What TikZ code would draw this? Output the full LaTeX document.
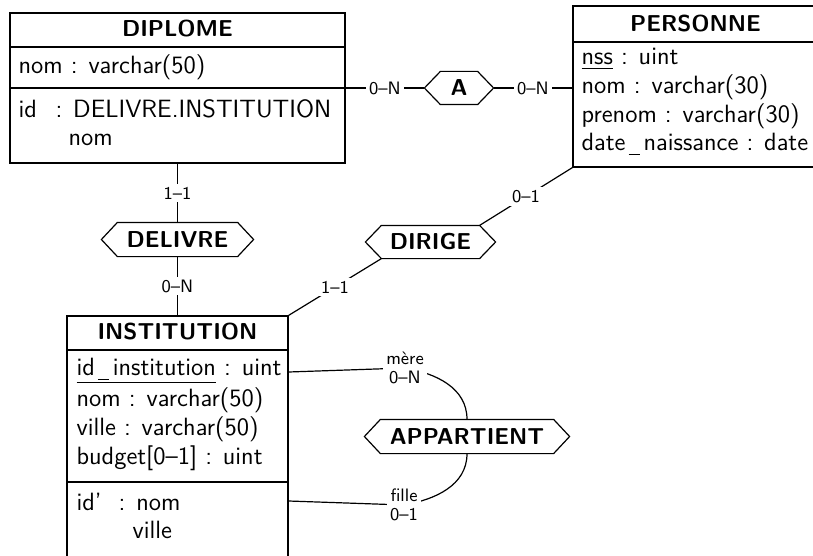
\documentclass[tikz,border=0pt]{standalone}
\usepackage{fontspec}
\usetikzlibrary{calc}
\newcommand\hexa[1]{\draw (#1.west) -- ([xshift=8pt]#1.north west) -- ([xshift=-8pt]#1.north east) -- (#1.east) -- ([xshift=-8pt]#1.south east) -- ([xshift=8pt]#1.south west) -- cycle;}
\newcommand\usc{\kern1.5pt\rule[-2.3pt]{5.5pt}{0.5pt}\kern2pt}
\begin{document}
\begin{tikzpicture}[x=0.5pt,y=-0.5pt, line width=0.6pt,
 entity/.style={draw, rectangle, inner sep=0pt},
 enttitle/.style={anchor=base, inner sep=0pt, font=\sffamily\fontsize{11.5}{14}\selectfont\bfseries},
 attrtext/.style={anchor=base west, inner sep=0pt, font=\sffamily\fontsize{12.5}{15}\selectfont},
 relbox/.style={rectangle, inner sep=0pt, font=\sffamily\fontsize{11.5}{14}\selectfont\bfseries},
 lbl/.style={fill=white, inner sep=1.5pt, font=\sffamily\fontsize{9}{9.5}\selectfont, align=center}]
\useasboundingbox (0,0) rectangle (813,556);

% DIPLOME
\node[entity, minimum width=167.5pt, minimum height=75pt] (diplome) at (177.5,88) {};
\draw (diplome.west |- 0,47) -- (diplome.east |- 0,47);
\draw (diplome.west |- 0,88) -- (diplome.east |- 0,88);
\node[enttitle] (diplomeT) at (177.5,37) {DIPLOME};
\node[attrtext] (d1) at (18,74) {nom : varchar(50)};
\node[attrtext] (d2) at (18,118) {id};
\node[attrtext] (d3) at (55,118) {: DELIVRE.INSTITUTION};
\node[attrtext] (d4) at (68,145.5) {nom};

% PERSONNE
\node[entity, minimum width=122.5pt, minimum height=80.5pt] (personne) at (695.5,86.5) {};
\draw (personne.west |- 0,42) -- (personne.east |- 0,42);
\node[enttitle] (personneT) at (695.5,31.7) {PERSONNE};
\node[attrtext] (p1) at (581,65) {\underline{nss} : uint};
\node[attrtext] (p2) at (581,94) {nom : varchar(30)};
\node[attrtext] (p3) at (581,122) {prenom : varchar(30)};
\node[attrtext] (p4) at (581,150) {date\usc naissance : date};

% INSTITUTION
\node[entity, minimum width=110.5pt, minimum height=127pt] (institution) at (177.5,443) {};
\draw (institution.west |- 0,350) -- (institution.east |- 0,350);
\draw (institution.west |- 0,482) -- (institution.east |- 0,482);
\node[enttitle] (institutionT) at (177.5,339.5) {INSTITUTION};
\node[attrtext] (i1) at (76,375) {\underline{id\usc institution} : uint};
\node[attrtext] (i2) at (76,406) {nom : varchar(50)};
\node[attrtext] (i3) at (76,435) {ville : varchar(50)};
\node[attrtext] (i4) at (76,464) {budget[0–1] : uint};
\node[attrtext] (i5) at (76,510) {id'};
\node[attrtext] (i6) at (118,510) {: nom};
\node[attrtext] (i7) at (132,538) {ville};

% relations
\node[relbox, minimum width=34pt, minimum height=16pt] (a) at (459,88) {A};
\hexa{a}
\node[relbox, minimum width=75.5pt, minimum height=16.5pt] (delivre) at (177.5,239.5) {DELIVRE};
\hexa{delivre}
\node[relbox, minimum width=64.5pt, minimum height=16pt] (dirige) at (430.5,242) {DIRIGE};
\hexa{dirige}
\node[relbox, minimum width=102pt, minimum height=16.5pt] (appartient) at (467,436.5) {APPARTIENT};
\hexa{appartient}

% connectors
\draw (diplome.east) -- node[lbl]{0–N} (a.west);
\draw (a.east) -- node[lbl]{0–N} (a.east -| personne.west);
\draw (diplome.south) -- node[lbl]{1–1} (delivre.north);
\draw (delivre.south) -- node[lbl]{0–N} (institution.north);
\draw ([xshift=-8pt]dirige.north east) -- node[lbl]{0–1} (personne.south west);
\draw ([xshift=8pt]dirige.south west) -- node[lbl]{1–1} (institution.north east);

\coordinate (mereC) at (405,368);
\draw (institution.east |- 0,372) -- (mereC) to[out=-10,in=90] (appartient.north);
\node[lbl] (mere) at (mereC) {mère\\0–N};
\coordinate (filleC) at (404,505);
\draw (institution.east |- 0,501) -- (filleC) to[out=10,in=-90] (appartient.south);
\node[lbl] (fille) at (filleC) {fille\\0–1};
\end{tikzpicture}
\end{document}
